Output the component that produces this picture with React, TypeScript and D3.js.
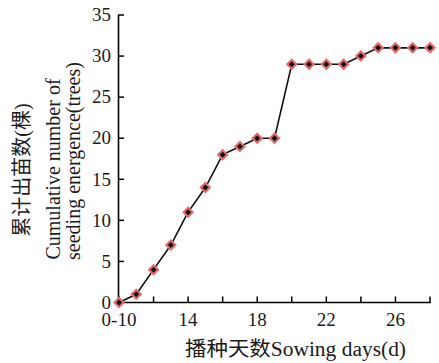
import React from 'react';
import * as d3 from 'd3';

// sowing day categories (first one groups days 0-10)
const days = ['0-10', '11', '12', '13', '14', '15', '16', '17', '18', '19', '20', '21', '22', '23', '24', '25', '26', '27', '28'];
const seedlings = [0, 1, 4, 7, 11, 14, 18, 19, 20, 20, 29, 29, 29, 29, 30, 31, 31, 31, 31];
const yTicks = [0, 5, 10, 15, 20, 25, 30, 35];
const xLabels = ['0-10', '14', '18', '22', '26'];

const W = 439;
const H = 363;
const serif = "'Liberation Serif', 'Noto Sans CJK SC', serif";

const App: React.FC = () => {
  const x = d3.scalePoint<string>().domain(days).range([119, 430]);
  const y = d3.scaleLinear().domain([0, 35]).range([302.5, 15]);

  const line = d3
    .line<number>()
    .x((_, i) => x(days[i]) as number)
    .y((d) => y(d));

  const diamond = (r: number) => `M0,${-r}L${r},0L0,${r}L${-r},0Z`;
  const txt = { fontFamily: serif, fill: '#1a1a1a' };

  return (
    <svg
      width={W}
      height={H}
      style={{ position: 'absolute', left: 0, top: 0, background: '#fff', fontFamily: serif }}
    >
      {/* axes */}
      <line x1={118.5} x2={118.5} y1={y(35)} y2={y(0)} stroke="#000" strokeWidth={1.6} />
      <line x1={118} x2={431} y1={y(0)} y2={y(0)} stroke="#000" strokeWidth={1.6} />

      {yTicks.map((t) => (
        <g key={t}>
          <line x1={118} x2={124} y1={y(t)} y2={y(t)} stroke="#000" strokeWidth={1.5} />
          <text x={111} y={y(t)} dy="0.33em" textAnchor="end" fontSize={19} style={txt}>
            {t}
          </text>
        </g>
      ))}

      {days.filter((_, i) => i % 2 === 0).map((d) => (
        <line key={d} x1={x(d)} x2={x(d)} y1={y(0)} y2={y(0) - 6} stroke="#000" strokeWidth={1.5} />
      ))}
      {xLabels.map((d) => (
        <text key={d} x={x(d)} y={326} textAnchor="middle" fontSize={19} style={txt}>
          {d}
        </text>
      ))}

      {/* titles */}
      <text
        x={185}
        y={356}
        fontSize={20}
        textLength={221}
        lengthAdjust="spacingAndGlyphs"
        style={txt}
      >
        播种天数Sowing days(d)
      </text>
      <text transform="translate(22,170)rotate(-90)" dy="0.35em" textAnchor="middle" fontSize={20} style={txt}>
        累计出苗数(棵)
      </text>
      <text transform="translate(53,169)rotate(-90)" dy="0.35em" textAnchor="middle" fontSize={20} style={txt}>
        Cumulative number of
      </text>
      <text transform="translate(73,161)rotate(-90)" dy="0.35em" textAnchor="middle" fontSize={20} style={txt}>
        seeding energence(trees)
      </text>

      {/* series */}
      <path d={line(seedlings) ?? ''} fill="none" stroke="#111" strokeWidth={1.6} />
      {seedlings.map((v, i) => (
        <g key={i} transform={`translate(${x(days[i])},${y(v)})`}>
          <path d={diamond(6)} fill="#e46a6a" />
          <path d={diamond(3)} fill="#111" />
        </g>
      ))}
    </svg>
  );
};

export default App;
